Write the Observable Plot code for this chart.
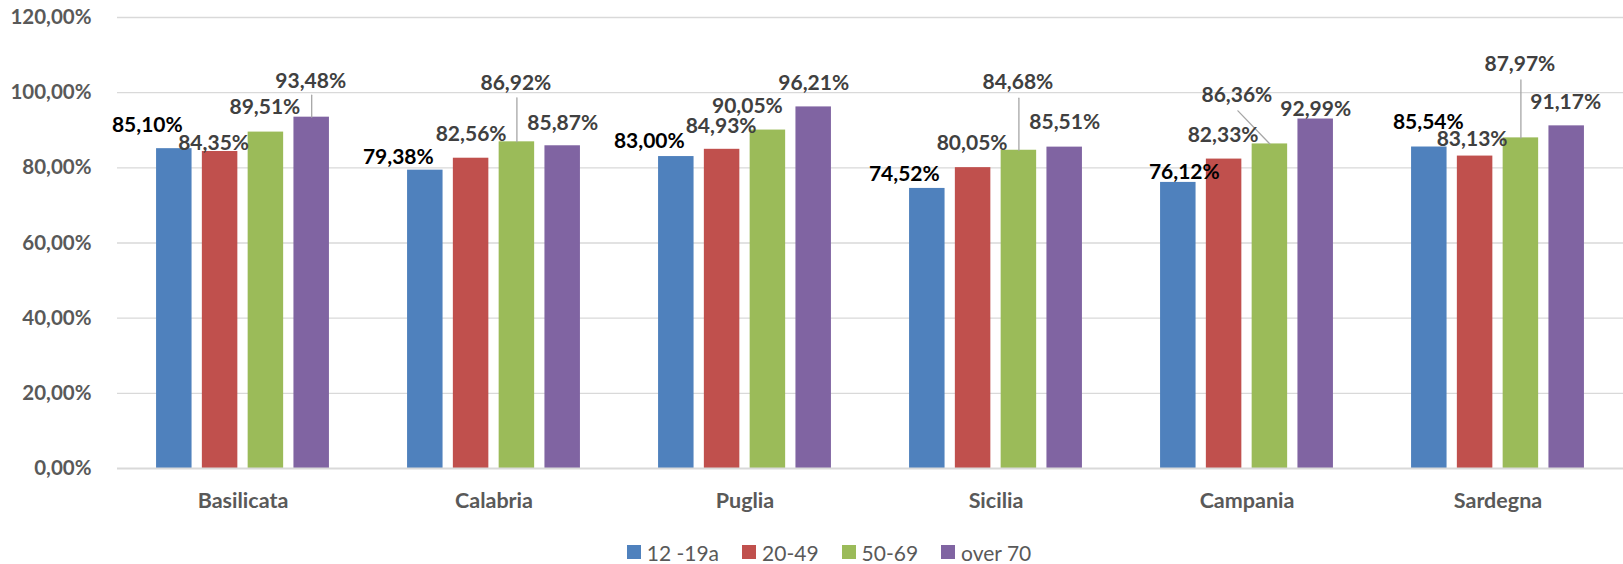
<!DOCTYPE html>
<html>
<head>
<meta charset="utf-8">
<script src="https://cdn.jsdelivr.net/npm/d3@7"></script>
<script src="https://cdn.jsdelivr.net/npm/@observablehq/plot@0.6"></script>
<style>
  html, body { margin: 0; padding: 0; background: #fff; }
  body { width: 1623px; height: 564px; overflow: hidden; font-family: Lato, "Open Sans", sans-serif; }
  #chart svg { display: block; font-family: Lato, "Open Sans", sans-serif; }
  #chart svg text { font-family: Lato, "Open Sans", sans-serif; }
  g[aria-label^="y-axis"] text { font-size: 20.5px; font-weight: 700; fill: #595959; }
  g[aria-label^="fx-axis"] text { font-size: 21.5px; font-weight: 700; fill: #595959; }
  #legend { height: 44px; display: flex; align-items: center; justify-content: center; padding-left: 35px; box-sizing: border-box; width: 1623px; }
  #legend .item { display: flex; align-items: center; margin-right: 23px; font-size: 21px; color: #595959; }
  #legend .item:last-child { margin-right: 0; }
  #legend .sw { width: 14px; height: 14px; margin-right: 6px; display: inline-block; }
</style>
</head>
<body>
<div id="chart"></div>
<div id="legend"></div>
<script>
// ---- data ----
const regions = ["Basilicata", "Calabria", "Puglia", "Sicilia", "Campania", "Sardegna"];
const series = ["12 -19a", "20-49", "50-69", "over 70"];
const v12_19 = [85.10, 79.38, 83.00, 74.52, 76.12, 85.54];
const v20_49 = [84.35, 82.56, 84.93, 80.05, 82.33, 83.13];
const v50_69 = [89.51, 86.92, 90.05, 84.68, 86.36, 87.97];
const vOver70 = [93.48, 85.87, 96.21, 85.51, 92.99, 91.17];
const yTicks = [0, 20, 40, 60, 80, 100, 120];

// ---- styling / label layout (pixel offsets, per series then region) ----
const colors = ["#4F81BD", "#C0504D", "#9BBB59", "#8064A2"];
const labelDx = [
  [-27, -27, -27, -23, 6, -1],
  [-6.5, 0, -1, -1, -1, -3],
  [-1, -1, -20.5, -1, -33, -1],
  [-1, 0, 0, 0, 0, -1]
];
const labelDy = [
  [-23, -13, -15, -14, -10, -25],
  [-8, -24, -23, -24, -24, -16.5],
  [-25, -59, -24, -68, -48.5, -74],
  [-36, -23, -24, -24.5, -10, -24]
];
const leaders = [
  {region: "Basilicata", series: "over 70", length: 22, rotate: 0},
  {region: "Calabria", series: "50-69", length: 44, rotate: 0},
  {region: "Sicilia", series: "50-69", length: 52, rotate: 0},
  {region: "Campania", series: "50-69", length: 46, rotate: -44},
  {region: "Sardegna", series: "50-69", length: 58, rotate: 0}
];

const valueSets = [v12_19, v20_49, v50_69, vOver70];
const data = regions.flatMap((r, i) => series.map((s, j) => ({
  region: r, series: s, value: valueSets[j][i], dx: labelDx[j][i], dy: labelDy[j][i], first: j === 0
})));
const fmtPct = v => v.toFixed(2).replace(".", ",") + "%";
const leaderData = leaders.map(l => ({...l, value: data.find(d => d.region === l.region && d.series === l.series).value}));

const textMarks = data.map(d => Plot.text([d], {
  fx: "region", x: "series", y: "value",
  text: t => fmtPct(t.value),
  dx: d.dx, dy: d.dy,
  fill: d.first ? "#000000" : "#404040",
  fontSize: 21, fontWeight: "bold", lineAnchor: "middle", textAnchor: "middle"
}));

const leaderMarks = leaderData.map(l => Plot.vector([l], {
  fx: "region", x: "series", y: "value",
  length: l.length, rotate: l.rotate, anchor: "start",
  stroke: "#a6a6a6", strokeWidth: 1.3,
  shape: {draw(context, len) { context.moveTo(0, 0); context.lineTo(0, -len); }}
}));

const chart = Plot.plot({
  width: 1623,
  height: 530,
  marginLeft: 117,
  marginRight: 0,
  marginTop: 17,
  marginBottom: 62,
  style: {background: "#fff", overflow: "visible"},
  fx: {domain: regions, padding: 0, axis: "bottom", tickSize: 0, tickPadding: 24, label: null},
  x: {domain: series, paddingInner: 0.225, paddingOuter: 0.853, axis: null, round: false},
  y: {domain: [0, 120], ticks: yTicks, tickFormat: d => d.toFixed(2).replace(".", ",") + "%", tickSize: 0, tickPadding: 26, label: null},
  color: {domain: series, range: colors},
  marks: [
    Plot.ruleY(yTicks.filter(t => t > 0), {stroke: "#d9d9d9", strokeWidth: 1.3}),
    Plot.barY(data, {fx: "region", x: "series", y: "value", fill: "series"}),
    Plot.ruleY([0], {stroke: "#d9d9d9", strokeWidth: 2}),
    ...leaderMarks,
    ...textMarks
  ]
});
document.getElementById("chart").appendChild(chart);

// legend
const legend = document.getElementById("legend");
series.forEach((s, i) => {
  const item = document.createElement("div");
  item.className = "item";
  const sw = document.createElement("span");
  sw.className = "sw";
  sw.style.background = colors[i];
  const label = document.createElement("span");
  label.textContent = s;
  item.appendChild(sw);
  item.appendChild(label);
  legend.appendChild(item);
});
</script>
</body>
</html>
